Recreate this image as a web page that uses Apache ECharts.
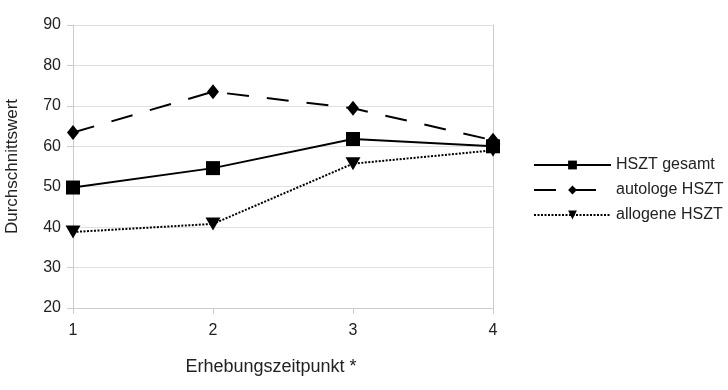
<!DOCTYPE html>
<html><head><meta charset="utf-8">
<script src="https://cdn.jsdelivr.net/npm/echarts@6/dist/echarts.min.js"></script>
<style>html,body{margin:0;padding:0;background:#fff}#c{width:728px;height:390px}</style>
</head><body><div id="c"></div>
<script>
const categories = ['1', '2', '3', '4'];
const gesamt = [49.8, 54.6, 61.8, 60.0];
const autologe = [63.4, 73.5, 69.4, 61.5];
const allogene = [38.8, 40.8, 55.7, 59.0];
const seriesNames = ['HSZT gesamt', 'autologe HSZT', 'allogene HSZT'];
const yTicks = {min: 20, max: 90, interval: 10};

const font = 'Liberation Sans, Arial, sans-serif';
const chart = echarts.init(document.getElementById('c'));
chart.setOption({
  animation: false,
  textStyle: {fontFamily: font},
  grid: {left: 73, right: 235, top: 25, bottom: 82, containLabel: false, outerBoundsMode: 'none'},
  legend: {
    orient: 'vertical', left: 533, top: 157, padding: 0, itemWidth: 77, itemHeight: 11, itemGap: 9,
    textStyle: {fontSize: 16, color: '#222', fontFamily: font},
    data: seriesNames
  },
  xAxis: {
    type: 'category', data: categories, boundaryGap: false,
    name: 'Erhebungszeitpunkt *', nameLocation: 'middle', nameGap: 50,
    nameTextStyle: {fontSize: 18, color: '#222', padding: [0, 24, 0, 0]},
    axisLine: {lineStyle: {color: '#ccc'}},
    axisTick: {show: true, length: 6, lineStyle: {color: '#ccc'}},
    axisLabel: {fontSize: 16, color: '#222', margin: 15},
    splitLine: {show: false}
  },
  yAxis: [{
    type: 'value', min: yTicks.min, max: yTicks.max, interval: yTicks.interval,
    name: 'Durchschnittswert', nameLocation: 'middle', nameGap: 52,
    nameTextStyle: {fontSize: 17, color: '#222'},
    axisLine: {show: true, lineStyle: {color: '#ccc'}},
    axisTick: {show: true, length: 6, lineStyle: {color: '#ccc'}},
    axisLabel: {fontSize: 16, color: '#222', margin: 12},
    splitLine: {lineStyle: {color: '#e0e0e0'}}
  }, {
    type: 'value', min: yTicks.min, max: yTicks.max, interval: yTicks.interval, position: 'right',
    axisLine: {show: true, lineStyle: {color: '#ccc'}},
    axisTick: {show: false}, axisLabel: {show: false}, splitLine: {show: false}
  }],
  series: [{
    name: seriesNames[0], type: 'line', data: gesamt,
    symbol: 'rect', symbolSize: 14,
    lineStyle: {color: '#000', width: 2},
    itemStyle: {color: '#000'}
  }, {
    name: seriesNames[1], type: 'line', data: autologe,
    symbol: 'diamond', symbolSize: [12, 15],
    lineStyle: {color: '#000', width: 2, type: [22, 18]},
    itemStyle: {color: '#000'}
  }, {
    name: seriesNames[2], type: 'line', data: allogene,
    symbol: 'triangle', symbolRotate: 180, symbolSize: [15, 13],
    lineStyle: {color: '#000', width: 2, type: [2, 1.5]},
    itemStyle: {color: '#000'}
  }]
});
</script></body></html>
